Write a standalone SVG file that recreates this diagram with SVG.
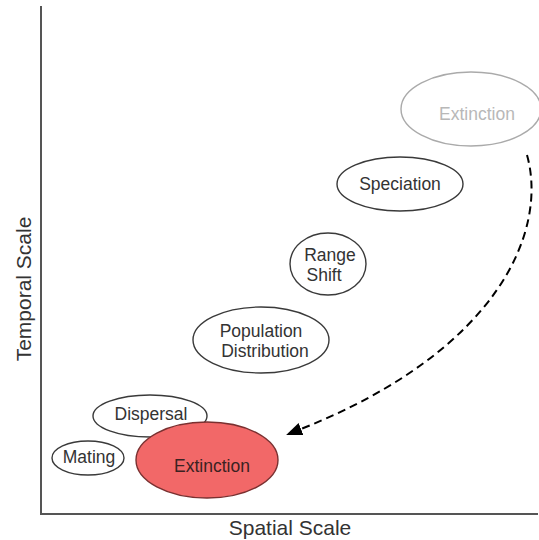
<svg xmlns="http://www.w3.org/2000/svg" width="539" height="540" viewBox="0 0 539 540">
<defs>
<style>
.node{fill:#ffffff;stroke:#3a3a3a;stroke-width:1.4}
.lbl{font-family:"Liberation Sans",Arial,sans-serif;font-size:17.5px;fill:#333333;text-anchor:middle}
.axis{stroke:#555555;stroke-width:2;fill:none}
.axlbl{font-family:"Liberation Sans",Arial,sans-serif;font-size:21px;fill:#333333;text-anchor:middle}
</style>
<marker id="ah" markerUnits="userSpaceOnUse" markerWidth="17" markerHeight="14" refX="0" refY="6.5" orient="auto">
<path d="M0,0 L16,6.5 L0,13 z" fill="#000000"/>
</marker>
</defs>
<rect width="539" height="540" fill="#ffffff"/>
<g id="axes">
<path class="axis" d="M41,6 L41,514 L538,514"/>
<text class="axlbl" x="290" y="535">Spatial Scale</text>
<text class="axlbl" transform="translate(31,289) rotate(-90)">Temporal Scale</text>
</g>
<g id="node-extinction-future">
<ellipse cx="471" cy="109" rx="70" ry="37" fill="#ffffff" stroke="#aaaaaa" stroke-width="1.4"/>
<text class="lbl" x="477" y="120" style="fill:#b8b8b8">Extinction</text>
</g>
<g id="node-speciation">
<ellipse class="node" cx="400" cy="184" rx="63" ry="27"/>
<text class="lbl" x="400" y="190">Speciation</text>
</g>
<g id="node-range-shift">
<ellipse class="node" cx="328" cy="264" rx="38" ry="31"/>
<text class="lbl" x="330" y="261">Range</text>
<text class="lbl" x="324" y="281">Shift</text>
</g>
<g id="node-population-distribution">
<ellipse class="node" cx="261" cy="340" rx="68" ry="33"/>
<text class="lbl" x="261" y="337">Population</text>
<text class="lbl" x="265" y="357">Distribution</text>
</g>
<g id="node-dispersal">
<ellipse class="node" cx="150" cy="416" rx="57" ry="21"/>
<text class="lbl" x="151" y="420">Dispersal</text>
</g>
<g id="node-mating">
<ellipse class="node" cx="88" cy="458" rx="36" ry="17"/>
<text class="lbl" x="89" y="463">Mating</text>
</g>
<g id="node-extinction">
<ellipse cx="207" cy="460" rx="71" ry="38" fill="#f26868" stroke="#7a3030" stroke-width="1.4"/>
<text class="lbl" x="212" y="472" style="fill:#3a2222">Extinction</text>
</g>
<g id="connectors">
<path d="M527,155 C548,230 500,350 301,429" fill="none" stroke="#000000" stroke-width="2" stroke-dasharray="8 5" marker-end="url(#ah)"/>
</g>
</svg>
